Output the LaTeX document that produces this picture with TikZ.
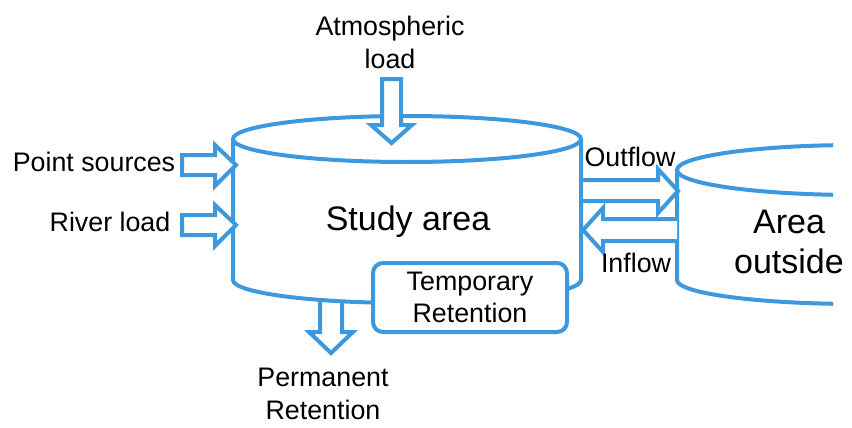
\documentclass[tikz,border=0pt]{standalone}
\usepackage{fontspec}
\setmainfont{Liberation Sans}
\definecolor{flowblue}{RGB}{61,153,222}
\begin{document}
\begin{tikzpicture}[x=0.5pt,y=-0.5pt,
  line width=2pt,
  blk/.style={draw=flowblue,fill=white,line join=miter},
  lbl/.style={inner sep=0pt,align=center,font=\fontsize{13.4}{16.5}\selectfont},
  biglbl/.style={inner sep=0pt,align=center,font=\fontsize{17}{20}\selectfont},
  boxst/.style={draw=flowblue,fill=white,rounded corners=5pt,minimum width=97pt,minimum height=34.5pt,inner sep=0pt,align=center,font=\fontsize{13.4}{16}\selectfont}]
\useasboundingbox (0,0) rectangle (852,428);
% Permanent retention arrow (behind cylinder)
\draw[blk] (320,296) -- (320,332) -- (309,332) -- (331,353) -- (353,332) -- (342,332) -- (342,296);
% Study area cylinder
\fill[white] (233,139) -- (233,280) arc[start angle=180,end angle=360,x radius=87pt,y radius=11.5pt] -- (581,139) -- cycle;
\draw[flowblue] (233,139) -- (233,280) arc[start angle=180,end angle=360,x radius=87pt,y radius=11.5pt] -- (581,139);
\draw[flowblue,fill=white] (407,139) ellipse[x radius=87pt,y radius=11.5pt];
\coordinate (studytop) at (407,139);
% Area outside cylinder (cut at right)
\begin{scope}
\clip (600,100) rectangle (833,330);
\fill[white] (677,170) -- (677,280) arc[start angle=180,end angle=360,x radius=90pt,y radius=12pt] -- (1037,170) -- cycle;
\draw[flowblue] (677,170) -- (677,280) arc[start angle=180,end angle=360,x radius=90pt,y radius=12pt];
\draw[flowblue] (857,170) ellipse[x radius=90pt,y radius=12.5pt];
\end{scope}
% Atmospheric arrow
\draw[blk] (382,79) -- (382,125) -- (371,125) -- (391.5,143) -- (412,125) -- (401,125) -- (401,79) -- cycle;
% Point sources arrow
\draw[blk] (182,155) -- (215,155) -- (215,145) -- (236,165) -- (215,186) -- (215,175) -- (182,175) -- cycle;
% River load arrow
\draw[blk] (182,215) -- (215,215) -- (215,205) -- (236,225) -- (215,246) -- (215,235) -- (182,235) -- cycle;
% Outflow arrow
\draw[blk] (583,180) -- (658,180) -- (658,169) -- (678,191) -- (658,213) -- (658,201) -- (583,201);
% Inflow arrow
\draw[blk] (677,219) -- (603,219) -- (603,208) -- (583,230) -- (603,252) -- (603,241) -- (677,241);
% Texts
\node[lbl] (atm) at (390,42) {Atmospheric\\load};
\node[lbl] (ps) at (94,162) {Point sources};
\node[lbl] (rl) at (110,222) {River load};
\node[biglbl] (study) at (408,222) {Study area};
\node[lbl] (out) at (630,157) {Outflow};
\node[lbl] (in) at (636,263) {Inflow};
\node[biglbl] (outside) at (789,242) {Area\\outside};
\node[boxst] (temp) at (470,297.5) {Temporary\\Retention};
\node[lbl] (perm) at (323,394) {Permanent\\Retention};
\end{tikzpicture}
\end{document}
